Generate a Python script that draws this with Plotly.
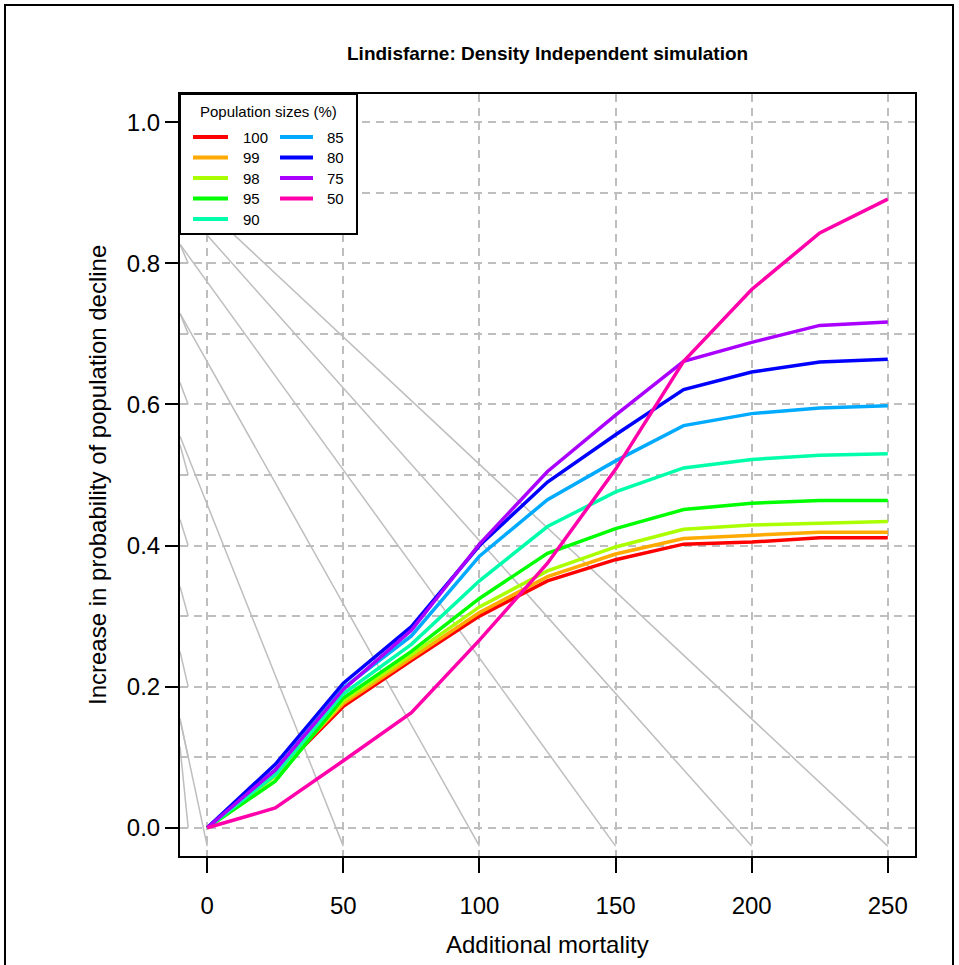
import plotly.graph_objects as go

# ---------------- data ----------------
mortality = [0, 25, 50, 75, 100, 125, 150, 175, 200, 225, 250]
pop_labels = ["100", "99", "98", "95", "90", "85", "80", "75", "50"]

p100 = [0, 0.075, 0.172, 0.237, 0.300, 0.350, 0.380, 0.402, 0.405, 0.411, 0.411]
p99 = [0, 0.076, 0.176, 0.240, 0.305, 0.356, 0.388, 0.410, 0.414, 0.419, 0.419]
p98 = [0, 0.073, 0.180, 0.245, 0.313, 0.364, 0.398, 0.423, 0.429, 0.431, 0.434]
p95 = [0, 0.066, 0.184, 0.250, 0.325, 0.389, 0.424, 0.451, 0.460, 0.464, 0.464]
p90 = [0, 0.075, 0.190, 0.260, 0.350, 0.427, 0.476, 0.510, 0.522, 0.528, 0.530]
p85 = [0, 0.082, 0.198, 0.272, 0.385, 0.465, 0.520, 0.570, 0.587, 0.595, 0.598]
p80 = [0, 0.090, 0.205, 0.285, 0.400, 0.490, 0.557, 0.621, 0.646, 0.660, 0.664]
p75 = [0, 0.082, 0.196, 0.280, 0.402, 0.505, 0.585, 0.661, 0.688, 0.712, 0.717]
p50 = [0, 0.028, 0.095, 0.163, 0.266, 0.375, 0.508, 0.661, 0.763, 0.843, 0.891]
series_values = [p100, p99, p98, p95, p90, p85, p80, p75, p50]

colors = ["#FF0000", "#FFAA00", "#AAFF00", "#00FF00", "#00FFAA",
          "#00AAFF", "#0000FF", "#AA00FF", "#FF00AA"]

# grey guide segments (start -> end)
guide_x0 = [-10, -10, -10, -10, -10, -10,
            -10, -10, -10, -10, -10, -10, -10, -10, -10]
guide_y0 = [0.912, 0.883, 0.827, 0.729, 0.555, 0.155,
            0.827, 0.729, 0.631, 0.543, 0.437, 0.342, 0.250, 0.153, 0.115]
guide_x1 = [250, 200, 150, 100, 50, 0,
            -7, -7, -7, -7, -7, -7, -7, -7, -7]
guide_y1 = [-0.026, -0.026, -0.026, -0.026, -0.026, -0.026,
            0.8, 0.7, 0.6, 0.5, 0.4, 0.3, 0.2, 0.1, 0.0]

x_ticks = [0, 50, 100, 150, 200, 250]
y_ticks = [0.0, 0.2, 0.4, 0.6, 0.8, 1.0]

title_text = "Lindisfarne: Density Independent simulation"
x_title = "Additional mortality"
y_title = "Increase in probability of population decline"
legend_title = "Population sizes (%)"

# ---------------- layout geometry (pixels) ----------------
W, H = 959, 965
PL, PR, PT, PB = 180, 915, 94, 856   # plot area in px
FONT = "Liberation Sans, Arial, Helvetica, sans-serif"
GRID = "#BEBEBE"


def px2x(px):
    return (px - PL) / (PR - PL)


def px2y(py):
    return (PB - py) / (PB - PT)


fig = go.Figure()

# grey guides
gx, gy = [], []
for a, b, c, d in zip(guide_x0, guide_y0, guide_x1, guide_y1):
    gx += [a, c, None]
    gy += [b, d, None]
fig.add_trace(go.Scatter(x=gx, y=gy, mode="lines",
                         line=dict(color=GRID, width=1.5),
                         hoverinfo="skip", showlegend=False))

for lab, vals, col in zip(pop_labels, series_values, colors):
    fig.add_trace(go.Scatter(x=mortality, y=vals, mode="lines", name=lab,
                             line=dict(color=col, width=3.5),
                             showlegend=False))

shapes = []
annotations = []

# outer frame
shapes.append(dict(type="rect", xref="paper", yref="paper",
                   x0=px2x(5), x1=px2x(953), y0=px2y(975), y1=px2y(5),
                   line=dict(color="black", width=2), fillcolor="rgba(0,0,0,0)",
                   layer="above"))

# manual legend
shapes.append(dict(type="rect", xref="paper", yref="paper",
                   x0=px2x(180), x1=px2x(357), y0=px2y(234), y1=px2y(PT),
                   line=dict(color="black", width=2), fillcolor="white",
                   layer="above"))
annotations.append(dict(text=legend_title, xref="paper", yref="paper",
                        x=px2x(268), y=px2y(111), showarrow=False,
                        xanchor="center", yanchor="middle",
                        font=dict(family=FONT, size=15, color="black")))
row_y = [137, 157.5, 178, 198.5, 219]
cols = [(193, 228, 241), (280, 313, 325)]
for i, (lab, col) in enumerate(zip(pop_labels, colors)):
    c = 0 if i < 5 else 1
    r = i if i < 5 else i - 5
    lx0, lx1, tx = cols[c]
    yy = px2y(row_y[r])
    shapes.append(dict(type="line", xref="paper", yref="paper",
                       x0=px2x(lx0), x1=px2x(lx1), y0=yy, y1=yy,
                       line=dict(color=col, width=4), layer="above"))
    annotations.append(dict(text=lab, xref="paper", yref="paper",
                            x=px2x(tx), y=yy, showarrow=False,
                            xanchor="left", yanchor="middle",
                            font=dict(family=FONT, size=15, color="black")))

# axis titles
annotations.append(dict(text=x_title, xref="paper", yref="paper",
                        x=0.5, y=px2y(944), showarrow=False,
                        xanchor="center", yanchor="middle",
                        font=dict(family=FONT, size=24, color="black")))
annotations.append(dict(text=y_title, xref="paper", yref="paper",
                        x=px2x(97), y=0.5, showarrow=False, textangle=-90,
                        xanchor="center", yanchor="middle",
                        font=dict(family=FONT, size=24, color="black")))
annotations.append(dict(text="<b>" + title_text + "</b>", xref="paper", yref="paper",
                        x=0.5, y=px2y(54), showarrow=False,
                        xanchor="center", yanchor="middle",
                        font=dict(family=FONT, size=19, color="black")))

fig.update_layout(
    width=W, height=H,
    margin=dict(l=PL, r=W - PR, t=PT, b=H - PB, pad=0),
    paper_bgcolor="white", plot_bgcolor="white",
    showlegend=False,
    shapes=shapes, annotations=annotations,
    xaxis=dict(range=[-10, 260], tickvals=x_ticks, ticks="outside",
               ticklen=15, tickwidth=1.5, tickcolor="black",
               showline=True, mirror=True, linecolor="black", linewidth=2,
               showgrid=True, gridcolor=GRID, griddash="8px,6px", gridwidth=2,
               zeroline=False, ticklabelstandoff=12,
               tickfont=dict(family=FONT, size=24, color="black")),
    yaxis=dict(range=[-0.04, 1.04], tickvals=y_ticks, tickformat=".1f",
               ticks="outside", ticklen=13, tickwidth=1.5, tickcolor="black",
               showline=True, mirror=True, linecolor="black", linewidth=2,
               showgrid=True, gridcolor=GRID, griddash="8px,6px", gridwidth=2,
               minor=dict(dtick=0.1, tick0=0, showgrid=True, gridcolor=GRID,
                          griddash="8px,6px", gridwidth=2, ticks=""),
               zeroline=False, ticklabelstandoff=0,
               tickfont=dict(family=FONT, size=24, color="black")),
)

fig.write_html("out.html",
               config={"displayModeBar": False},
               post_script="document.body.style.margin='0px';")
